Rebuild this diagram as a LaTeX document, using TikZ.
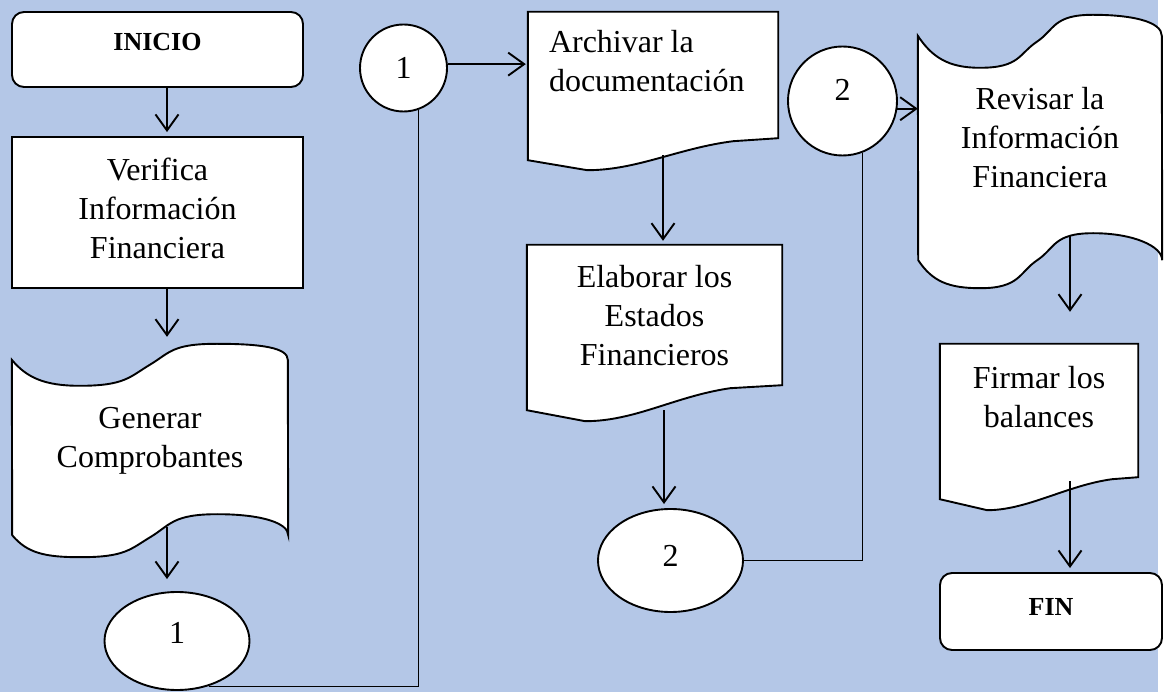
\documentclass[tikz,border=0pt]{standalone}
\usepackage{fontspec}
\setmainfont{Liberation Serif}
\usetikzlibrary{shapes.geometric,arrows.meta,backgrounds}

\definecolor{fondo}{RGB}{180,199,231}

\tikzset{
  texto/.style={font=\fontsize{32}{39}\selectfont},
  terminal/.style={rectangle,rounded corners=12pt,draw,fill=white,line width=1.9pt,font=\fontsize{26}{32}\selectfont\bfseries},
  proceso/.style={rectangle,draw,fill=white,line width=1.9pt,texto,align=center},
  cinta/.style={rectangle,texto,align=center},
  documento/.style={rectangle,texto},
  conector/.style={ellipse,draw,fill=white,line width=1.9pt,texto,inner sep=0pt},
  borde/.style={draw,fill=white,line width=1.9pt},
  flecha/.style={line width=1.9pt,-{Straight Barb[length=16pt,width=23pt]},shorten >=4pt},
  linea/.style={line width=0.9pt}
}

\begin{document}
\begin{tikzpicture}[x=1pt,y=-1pt]
    % fondo
    \begin{scope}[on background layer]
    \fill[white] (0,0) rectangle (1168,692);
    \fill[fondo] (0,0) rectangle (1158,692);
    \end{scope}

    % primera columna
    \node[terminal,minimum width=291pt,minimum height=75pt,text depth=15pt] (inicio) at (157.5,49.5) {INICIO};
    \node[proceso,minimum width=291pt,minimum height=151pt,text depth=9pt] (verif) at (157.5,212.5) {Verifica\\Información\\Financiera};
    \node[cinta,minimum width=276pt,minimum height=175pt,text depth=20pt] (gen) at (150,447.5) {Generar\\Comprobantes};
    \node[conector,minimum width=145pt,minimum height=98pt,text depth=16pt] (con1a) at (177,641) {1};

    % segunda columna
    \node[conector,minimum size=87pt] (con1b) at (403.5,68) {1};
    \node[documento,minimum width=250pt,minimum height=148pt,text width=208pt,align=flush left,text depth=90pt] (archivo) at (653,86) {Archivar la\\documentación};
    \node[documento,minimum width=255pt,minimum height=165pt,align=center,text depth=25pt] (elabora) at (654.5,327.5) {Elaborar los\\Estados\\Financieros};
    \node[conector,minimum width=145pt,minimum height=103pt,text depth=10pt] (con2a) at (670.5,560.5) {2};

    % tercera columna
    \node[conector,minimum size=109pt,text depth=22pt] (con2b) at (842.5,101) {2};
    \node[cinta,minimum width=244pt,minimum height=224pt,text depth=22pt] (revisa) at (1040,148) {Revisar la\\Información\\Financiera};
    \node[documento,minimum width=198pt,minimum height=155pt,align=center,text depth=50pt] (firma) at (1039,421.5) {Firmar los\\balances};
    \node[terminal,minimum width=222pt,minimum height=77pt,text depth=9pt] (fin) at (1051,611.5) {FIN};

    % contornos de cinta y documento
    \begin{scope}[on background layer]
    \draw[borde] (gen.north west) .. controls +(15,18) and +(-35,0) .. ++(68,26) .. controls +(45,0) and +(-20,12) .. ++(70,-21)
        .. controls +(20,-12) and +(-45,0) .. ++(67,-21) .. controls +(45,0) and +(0,-12) .. ++(71,16) -- (gen.south east)
        .. controls +(0,-12) and +(45,0) .. ++(-71,-21) .. controls +(-45,0) and +(20,-12) .. ++(-67,23)
        .. controls +(-20,12) and +(45,0) .. ++(-70,20) .. controls +(-35,0) and +(15,18) .. ++(-68,-22) -- cycle;
    \draw[borde] (revisa.north west) .. controls +(14,21) and +(-32,0) .. ++(62,32) .. controls +(40,0) and +(-18,12) .. ++(57,-26)
        .. controls +(18,-12) and +(-40,0) .. ++(56,-27) .. controls +(40,0) and +(0,-14) .. ++(69,21) -- (revisa.south east)
        .. controls +(0,-14) and +(40,0) .. ++(-69,-27) .. controls +(-40,0) and +(18,-12) .. ++(-56,27)
        .. controls +(-18,12) and +(40,0) .. ++(-57,28) .. controls +(-32,0) and +(14,21) .. ++(-62,-28) -- cycle;
    \draw[borde] (archivo.north west) -- (archivo.north east) -- ([yshift=22pt]archivo.south east) -- ++(-45,3) .. controls +(-55,7) and +(50,0) .. ++(-146,29) -- (archivo.south west) -- cycle;
    \draw[borde] (elabora.north west) -- (elabora.north east) -- ([yshift=25pt]elabora.south east) -- ++(-52,3) .. controls +(-55,8) and +(50,0) .. ++(-145,33) -- (elabora.south west) -- cycle;
    \draw[borde] (firma.north west) -- (firma.north east) -- ([yshift=22pt]firma.south east) -- ++(-26,2) .. controls +(-45,6) and +(40,0) .. ++(-125,31) -- (firma.south west) -- cycle;
    \end{scope}

    % flechas
    \draw[flecha] ([xshift=9.5pt]inicio.south) -- ([xshift=9.5pt]verif.north);
    \draw[flecha,shorten >=23pt] ([xshift=9.5pt]verif.south) -- ([xshift=9.5pt]verif.south |- gen.north);
    \draw[flecha] ([xshift=17pt,yshift=8pt]gen.south) -- ([xshift=17pt,yshift=8pt]gen.south |- con1a.north);
    \draw[linea] (con1a.-55) -| (con1b.-70);
    \draw[flecha,shorten >=2pt] (con1b.5) -- (con1b.5 -| archivo.west);
    \draw[flecha] ([xshift=10pt,yshift=5pt]archivo.south) -- ([xshift=10pt]archivo.south |- elabora.north);
    \draw[flecha] ([xshift=9.5pt]elabora.south) -- ([xshift=9.5pt]elabora.south |- con2a.north);
    \draw[linea] (con2a.east) -| (con2b.-69);
    \draw[flecha,shorten >=0pt] (con2b.-8) -- (con2b.-8 -| revisa.west);
    \draw[flecha,shorten >=7pt] ([xshift=30pt,yshift=25pt]revisa.south) -- ([xshift=30pt,yshift=25pt]revisa.south |- firma.north);
    \draw[flecha,shorten >=-14pt] ([xshift=31pt,yshift=18pt]firma.south) -- ([xshift=31pt,yshift=18pt]firma.south |- fin.north);
\end{tikzpicture}
\end{document}
